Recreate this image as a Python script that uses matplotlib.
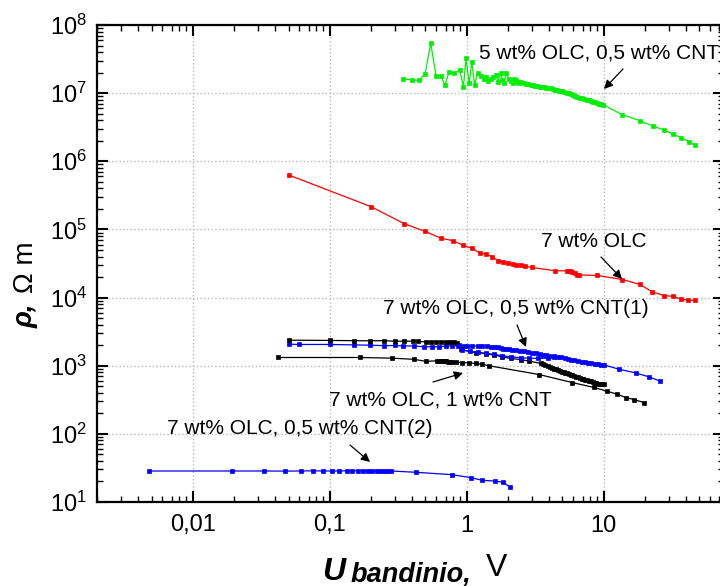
import matplotlib
matplotlib.use("Agg")
import matplotlib.pyplot as plt
from matplotlib.ticker import LogLocator, FixedLocator, FixedFormatter, NullFormatter

plt.rcParams['font.family'] = ['Liberation Sans', 'DejaVu Sans']
plt.rcParams['mathtext.fontset'] = 'custom'
plt.rcParams['mathtext.rm'] = 'Liberation Sans'
plt.rcParams['mathtext.it'] = 'Liberation Sans:italic'
plt.rcParams['mathtext.bf'] = 'Liberation Sans:bold'

# ---- 5 wt% OLC, 0,5 wt% CNT ----
green_u = [0.345, 0.397, 0.449, 0.497, 0.546, 0.597, 0.646, 0.695, 0.743, 0.808,
           0.889, 0.946, 0.988, 1.04, 1.09, 1.14, 1.20, 1.27, 1.33, 1.38,
           1.44, 1.50, 1.56, 1.63, 1.69, 1.77, 1.82, 1.87, 1.95, 2.04,
           2.10, 2.16, 2.22, 2.28, 2.35, 2.41, 2.50, 2.62, 2.70, 2.80,
           2.93, 3.05, 3.15, 3.28, 3.40, 3.52, 3.67, 3.80, 3.95, 4.10,
           4.25, 4.40, 4.59, 4.75, 4.95, 5.13, 5.35, 5.55, 5.74, 5.95,
           6.2, 6.43, 6.7, 6.95, 7.2, 7.5, 7.8, 8.1, 8.4, 8.7,
           9.0, 9.3, 9.6, 9.95, 13.7, 18.4, 22.9, 27.6, 32.1, 36.9,
           42.0, 46.2]
green_rho = [16.3e6, 15.6e6, 15.4e6, 19.3e6, 53.9e6, 18.0e6, 18.0e6, 13.2e6, 20.6e6, 19.5e6,
             21.8e6, 12.4e6, 32.4e6, 13.9e6, 28.9e6, 13.2e6, 19.5e6, 17.8e6, 16.4e6, 17.1e6,
             15.2e6, 16.0e6, 17.5e6, 18.5e6, 14.7e6, 19.5e6, 15.8e6, 13.9e6, 19.5e6, 16.0e6,
             15.0e6, 13.9e6, 16.4e6, 15.6e6, 14.5e6, 14.2e6, 14.6e6, 13.9e6, 13.6e6, 13.5e6,
             13.2e6, 13.0e6, 12.9e6, 12.7e6, 12.5e6, 12.4e6, 12.2e6, 12.0e6, 11.8e6, 11.7e6,
             11.5e6, 11.3e6, 11.1e6, 10.9e6, 10.7e6, 10.5e6, 10.2e6, 9.95e6, 9.7e6, 9.45e6,
             9.15e6, 8.86e6, 8.62e6, 8.42e6, 8.24e6, 8.03e6, 7.83e6, 7.64e6, 7.48e6, 7.30e6,
             7.14e6, 7.00e6, 6.86e6, 6.70e6, 4.82e6, 3.94e6, 3.29e6, 2.87e6, 2.51e6, 2.21e6,
             1.94e6, 1.71e6]

# ---- 7 wt% OLC ----
red_u = [0.0504, 0.201, 0.348, 0.497, 0.646, 0.80, 0.94, 1.10, 1.24, 1.39,
         1.54, 1.70, 1.84, 1.99, 2.16, 2.30, 2.48, 2.65, 2.98, 4.41,
         5.43, 5.70, 5.90, 6.13, 6.43, 6.60, 9.0, 13.7, 18.3, 22.7,
         27.6, 32.1, 36.5, 41.5, 46.2]
red_rho = [6.27e5, 2.15e5, 1.22e5, 9.35e4, 7.45e4, 6.8e4, 5.85e4, 5.26e4, 4.53e4, 4.34e4,
           3.96e4, 3.46e4, 3.31e4, 3.24e4, 3.09e4, 3.02e4, 2.96e4, 2.89e4, 2.77e4, 2.47e4,
           2.47e4, 2.42e4, 2.34e4, 2.26e4, 2.18e4, 2.15e4, 2.11e4, 1.84e4, 1.56e4, 1.21e4,
           1.07e4, 1.04e4, 9.5e3, 9.16e3, 9.06e3]

# ---- 7 wt% OLC, 1 wt% CNT (upper sweep) ----
black1_u = [0.0504, 0.100, 0.150, 0.197, 0.249, 0.298, 0.348, 0.402, 0.444, 0.502,
            0.552, 0.600, 0.654, 0.703, 0.756, 0.808, 0.855, 0.904, 1.16, 1.38,
            1.58, 1.82, 2.09, 2.48, 2.85, 3.47, 3.6, 3.75, 3.9, 4.05,
            4.2, 4.34, 4.5, 4.65, 4.8, 4.95, 5.1, 5.25, 5.4, 5.57,
            5.74, 5.9, 6.1, 6.3, 6.5, 6.7, 6.9, 7.1, 7.35, 7.6,
            7.85, 8.1, 8.35, 8.6, 8.85, 9.1, 9.4, 9.7, 10.0]
black1_rho = [2370, 2350, 2330, 2320, 2330, 2290, 2290, 2290, 2270, 2240,
              2240, 2240, 2240, 2240, 2210, 2210, 2180, 1730, 1560, 1510,
              1430, 1350, 1280, 1230, 1170, 1080, 1060, 1030, 1000, 970,
              940, 910, 885, 860, 840, 820, 800, 785, 770, 755,
              743, 728, 710, 693, 677, 662, 648, 636, 624, 612,
              600, 588, 577, 566, 556, 548, 541, 537, 533]

# ---- 7 wt% OLC, 1 wt% CNT (lower sweep) ----
black2_u = [0.042, 0.166, 0.287, 0.413, 0.502, 0.61, 0.63, 0.65, 0.67, 0.69,
            0.71, 0.73, 0.75, 0.78, 0.83, 0.93, 1.04, 1.16, 1.30, 1.45,
            3.37, 5.9, 8.5, 10.6, 12.6, 14.5, 16.6, 19.7]
black2_rho = [1320, 1320, 1290, 1240, 1160, 1180, 1175, 1170, 1165, 1160,
              1155, 1150, 1145, 1140, 1135, 1110, 1100, 1080, 1050, 1000,
              743, 566, 479, 422, 381, 341, 319, 288]

# ---- 7 wt% OLC, 0,5 wt% CNT(1) ----
blue1_u = [0.0504, 0.0596, 0.100, 0.150, 0.197, 0.249, 0.298, 0.345, 0.413, 0.488,
           0.562, 0.628, 0.711, 0.786, 0.88, 0.95, 1.0, 1.1, 1.2, 1.3,
           1.4, 1.5, 1.6, 1.7, 1.77, 1.85, 1.95, 2.05, 2.15, 2.3,
           2.45, 2.6, 2.8, 3.0, 3.2, 3.4, 3.6, 3.8, 4.0, 4.3,
           4.6, 4.9, 5.2, 5.5, 5.8, 6.1, 6.5, 6.9, 7.3, 7.7,
           8.1, 8.6, 9.1, 9.6, 10.0, 12.9, 17.1, 21.4, 25.6]
blue1_rho = [2070, 2050, 2050, 2020, 2000, 1970, 1980, 1950, 1950, 1900,
             1900, 1900, 1950, 1950, 1980, 1970, 1960, 1950, 1940, 1930,
             1920, 1910, 1900, 1890, 1800, 1780, 1760, 1730, 1710, 1680,
             1650, 1620, 1580, 1550, 1520, 1490, 1460, 1440, 1410, 1380,
             1350, 1320, 1290, 1260, 1230, 1210, 1180, 1150, 1130, 1110,
             1090, 1070, 1050, 1040, 1030, 889, 784, 686, 599]

# return sweep of the same sample
blue1b_u = [0.86, 0.93, 1.05, 1.2, 1.38, 1.58, 1.82, 2.1, 2.5, 2.85, 3.3, 3.9, 4.3]
blue1b_rho = [1950, 1700, 1620, 1570, 1520, 1470, 1400, 1350, 1310, 1290, 1280, 1290, 1330]

# ---- 7 wt% OLC, 0,5 wt% CNT(2) ----
blue2_u = [0.0048, 0.0193, 0.0331, 0.0472, 0.0614, 0.076, 0.0893, 0.1035, 0.117, 0.133,
           0.146, 0.161, 0.175, 0.19, 0.205, 0.22, 0.233, 0.247, 0.26, 0.282,
           0.424, 0.777, 1.07, 1.30, 1.60, 1.85, 2.07]
blue2_rho = [28.5, 28.5, 28.5, 28.4, 28.5, 28.7, 28.5, 28.5, 28.5, 28.7,
             28.7, 28.7, 28.7, 28.7, 28.5, 28.5, 28.7, 28.5, 28.5, 28.5,
             27.3, 25.2, 22.8, 20.8, 20.3, 19.5, 16.4]

x_ticks = [0.01, 0.1, 1, 10]
x_tick_labels = ['0,01', '0,1', '1', '10']

W, H = 720, 586
fig = plt.figure(figsize=(W / 100, H / 100), dpi=100)
# axes box in pixels: left 97, top 25, bottom 502, right edge beyond the canvas
ax = fig.add_axes([97 / W, 1 - 502 / H, 626.6 / W, 477 / H])

style = dict(marker='s', markersize=3.5, linewidth=0.9, markeredgewidth=0.5)
ax.plot(red_u, red_rho, color='#ff0000', **style)
ax.plot(green_u, green_rho, color='#00ee00', **style)
ax.plot(blue1_u, blue1_rho, color='#0000ff', **style)
ax.plot(black1_u, black1_rho, color='black', **style)
ax.plot(blue1b_u, blue1b_rho, color='#0000ff', **style)
ax.plot(black2_u, black2_rho, color='black', **style)
ax.plot(blue2_u, blue2_rho, color='#0000ff', **style)

ax.set_xscale('log')
ax.set_yscale('log')
ax.set_xlim(0.002, 75)
ax.set_ylim(10, 1e8)

ax.xaxis.set_major_locator(FixedLocator(x_ticks))
ax.xaxis.set_major_formatter(FixedFormatter(x_tick_labels))
ax.xaxis.set_minor_locator(LogLocator(base=10, subs=range(2, 10), numticks=20))
ax.xaxis.set_minor_formatter(NullFormatter())
ax.yaxis.set_major_locator(LogLocator(base=10, numticks=20))
ax.yaxis.set_minor_locator(LogLocator(base=10, subs=range(2, 10), numticks=20))
ax.yaxis.set_minor_formatter(NullFormatter())

ax.tick_params(which='both', direction='in', top=True, right=True)
ax.tick_params(which='major', length=8, width=1.5, labelsize=17)
ax.tick_params(which='minor', length=4, width=1.0)
ax.tick_params(axis='y', which='major', pad=7)
ax.tick_params(axis='x', which='major', pad=9)
for sp in ax.spines.values():
    sp.set_linewidth(1.6)

ax.grid(True, which='major', linestyle=':', color='#b8b8b8', linewidth=1.0)
ax.set_axisbelow(True)


def fp(px, py):
    return (px / W, 1 - py / H)


arrow = dict(arrowstyle='-|>', color='black', lw=0.9, mutation_scale=13, shrinkA=0, shrinkB=0)
labels = [
    ("5 wt% OLC, 0,5 wt% CNT", (479, 53), 'left', (623, 69), (604, 89)),
    ("7 wt% OLC", (541, 242), 'left', (601, 257), (622, 279)),
    ("7 wt% OLC, 0,5 wt% CNT(1)", (383, 308), 'left', (517, 325), (526, 347)),
    ("7 wt% OLC, 1 wt% CNT", (552, 400), 'right', (433, 382), (463, 373)),
    ("7 wt% OLC, 0,5 wt% CNT(2)", (167, 428), 'left', (350, 445), (370, 462)),
]
for txt, pos, ha, tail, head in labels:
    fig.text(*fp(*pos), txt, fontsize=15, ha=ha, va='center')
    ax.annotate('', xy=fp(*head), xycoords='figure fraction',
                xytext=fp(*tail), textcoords='figure fraction', arrowprops=arrow)

# y axis title
fig.text(*fp(33, 328), "ρ,", rotation=90, rotation_mode='anchor', ha='left', va='baseline',
         fontsize=20, fontweight='bold', style='italic')
fig.text(*fp(33, 293), "Ω m", rotation=90, rotation_mode='anchor', ha='left', va='baseline',
         fontsize=20)

# x axis title
fig.text(*fp(322, 580), "U", ha='left', va='baseline', fontsize=23, fontweight='bold', style='italic')
fig.text(*fp(351, 581), "bandinio,", ha='left', va='baseline', fontsize=19.5, fontweight='bold', style='italic')
fig.text(*fp(486, 576), "V", ha='left', va='baseline', fontsize=23)

fig.savefig('out.png', dpi=100)
